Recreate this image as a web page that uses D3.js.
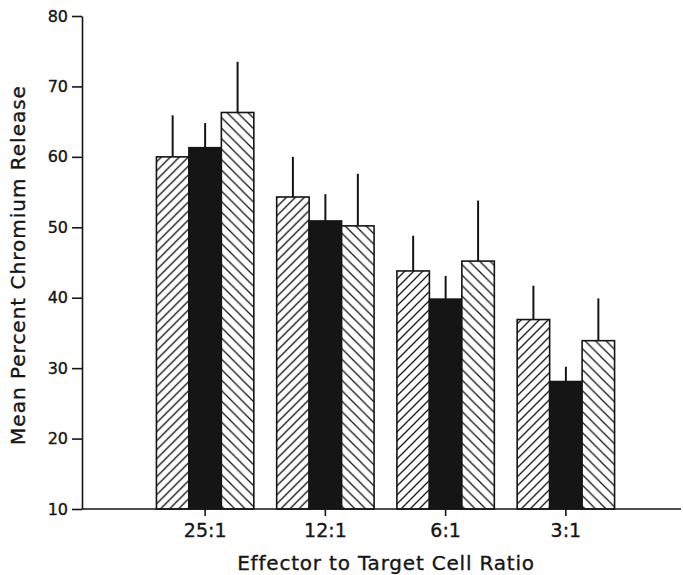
<!DOCTYPE html>
<html>
<head>
<meta charset="utf-8">
<script src="https://cdn.jsdelivr.net/npm/d3@7"></script>
<style>
  body { margin: 0; background: #fff; }
  svg text { font-family: "DejaVu Sans", sans-serif; fill: #151515; stroke: #151515; stroke-width: 0.35px; }
</style>
</head>
<body>
<svg width="683" height="575"></svg>
<script>
// categories and values
var categories = ["25:1", "12:1", "6:1", "3:1"];
var seriesKeys = ["a", "b", "c"];
var meanA = [60.0, 54.3, 43.8, 36.9];
var meanB = [61.3, 50.9, 39.8, 28.1];
var meanC = [66.3, 50.2, 45.2, 33.9];
var errA = [5.9, 5.7, 5.0, 4.8];
var errB = [3.5, 3.8, 3.3, 2.1];
var errC = [7.2, 7.4, 8.6, 6.0];
var yTicks = [10, 20, 30, 40, 50, 60, 70, 80];

var svg = d3.select("svg");
var ink = "#151515";

var defs = svg.append("defs");

function hatch(id, size, dir) {
    var p = defs.append("pattern")
        .attr("id", id)
        .attr("patternUnits", "userSpaceOnUse")
        .attr("width", size)
        .attr("height", size);
    p.append("rect").attr("width", size).attr("height", size).attr("fill", "#fff");
    var s = size;
    var d = dir > 0
        ? `M0,${s} L${s},0 M${-s / 4},${s / 4} L${s / 4},${-s / 4} M${s * 3 / 4},${s * 5 / 4} L${s * 5 / 4},${s * 3 / 4}`
        : `M0,0 L${s},${s} M${-s / 4},${s * 3 / 4} L${s / 4},${s * 5 / 4} M${s * 3 / 4},${-s / 4} L${s * 5 / 4},${s / 4}`;
    p.append("path").attr("d", d).attr("stroke", ink).attr("stroke-width", 1.3);
}
hatch("hatchA", 9, 1);
hatch("hatchC", 10.5, -1);

var fills = { a: "url(#hatchA)", b: ink, c: "url(#hatchC)" };

var x = d3.scaleBand()
    .domain(categories)
    .range([145, 626])
    .paddingInner(0.19)
    .paddingOuter(0.095);

var xs = d3.scaleBand()
    .domain(seriesKeys)
    .range([0, x.bandwidth()]);

var y = d3.scaleLinear()
    .domain([10, 80])
    .range([509, 16]);

var rows = categories.map((c, i) => ({
    cat: c,
    vals: [
        { key: "a", v: meanA[i], e: errA[i] },
        { key: "b", v: meanB[i], e: errB[i] },
        { key: "c", v: meanC[i], e: errC[i] }
    ]
}));

// error bars (drawn first, bars cover their lower end)
var groups = svg.append("g")
    .selectAll("g")
    .data(rows)
    .enter().append("g")
        .attr("transform", d => `translate(${x(d.cat)},0)`);

groups.selectAll("line.err")
    .data(d => d.vals)
    .enter().append("line")
        .attr("class", "err")
        .attr("x1", d => xs(d.key) + xs.bandwidth() / 2)
        .attr("x2", d => xs(d.key) + xs.bandwidth() / 2)
        .attr("y1", d => y(d.v))
        .attr("y2", d => y(d.v + d.e))
        .attr("stroke", ink)
        .attr("stroke-width", 2);

groups.selectAll("rect")
    .data(d => d.vals)
    .enter().append("rect")
        .attr("x", d => xs(d.key))
        .attr("y", d => y(d.v))
        .attr("width", xs.bandwidth())
        .attr("height", d => y(10) - y(d.v))
        .attr("fill", d => fills[d.key])
        .attr("stroke", ink)
        .attr("stroke-width", 1.6);

// y axis
var yAxis = svg.append("g")
    .attr("transform", "translate(82,0)")
    .call(d3.axisLeft(y).tickValues(yTicks).tickSize(10).tickSizeOuter(0).tickPadding(4));
yAxis.select(".domain").attr("stroke", ink).attr("stroke-width", 1.6);
yAxis.selectAll(".tick line").attr("stroke", ink).attr("stroke-width", 1.6);
yAxis.selectAll(".tick text").attr("font-size", 16).style("font-family", "DejaVu Sans, sans-serif");

// x axis
var xAxis = svg.append("g")
    .attr("transform", "translate(0,509)")
    .call(d3.axisBottom(x).tickSize(7).tickPadding(8));
xAxis.select(".domain").remove();
xAxis.selectAll(".tick line").attr("stroke", ink).attr("stroke-width", 1.6);
xAxis.selectAll(".tick text").attr("font-size", 19).style("font-family", "DejaVu Sans, sans-serif");

svg.append("line")
    .attr("x1", 82).attr("x2", 681)
    .attr("y1", 509).attr("y2", 509)
    .attr("stroke", ink)
    .attr("stroke-width", 1.6);

// titles
svg.append("text")
    .attr("x", 386)
    .attr("y", 570)
    .attr("text-anchor", "middle")
    .attr("font-size", 20)
    .attr("letter-spacing", 0.8)
    .text("Effector to Target Cell Ratio");

svg.append("text")
    .attr("transform", "translate(25,265) rotate(-90)")
    .attr("text-anchor", "middle")
    .attr("font-size", 20)
    .attr("letter-spacing", 1)
    .text("Mean Percent Chromium Release");
</script>
</body>
</html>
